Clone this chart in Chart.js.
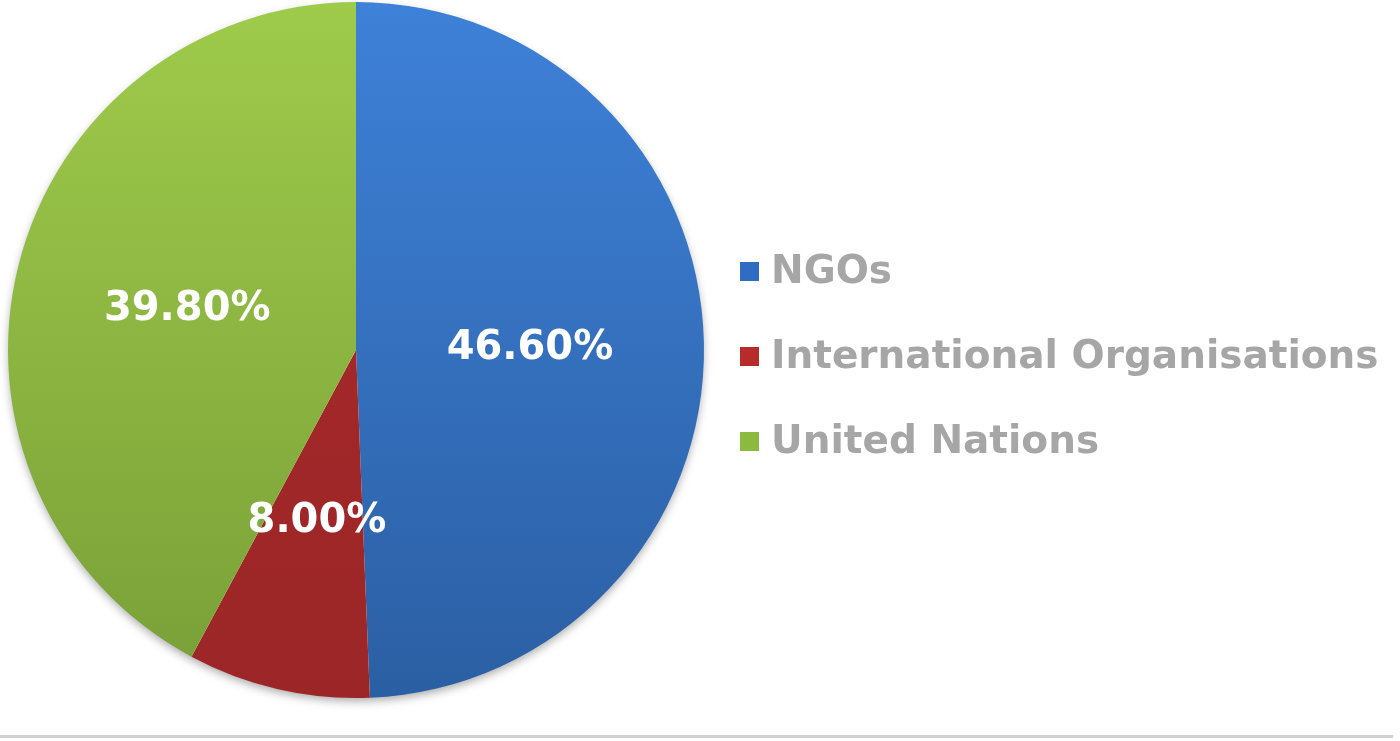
<!DOCTYPE html>
<html>
<head>
<meta charset="utf-8">
<script src="https://cdn.jsdelivr.net/npm/chart.js@4/dist/chart.umd.min.js"></script>
<style>
  html, body { margin: 0; padding: 0; background: #ffffff; }
  #wrap { width: 1400px; height: 741px; position: relative; }
</style>
</head>
<body>
<div id="wrap"><canvas id="pieChart" width="1400" height="741"></canvas></div>
<script>
// Funding share by channel
const categories = ["NGOs", "International Organisations", "United Nations"];
const shares = [46.6, 8.0, 39.8];
const shareLabels = ["46.60%", "8.00%", "39.80%"];

// top / bottom colours of each slice (slight vertical gradient)
const topColors = ["#3e81d8", "#a8292b", "#9fcb4b"];
const bottomColors = ["#2b5fa3", "#9c2627", "#789f37"];
const markerColors = ["#2f6cc2", "#b82b2b", "#8cba3f"];

function sliceFill(context) {
  const chart = context.chart;
  const area = chart.chartArea;
  if (!area) return topColors[context.dataIndex];
  const g = chart.ctx.createLinearGradient(0, area.top, 0, area.bottom);
  g.addColorStop(0, topColors[context.dataIndex]);
  g.addColorStop(1, bottomColors[context.dataIndex]);
  return g;
}

// soft shadow under the pie
const pieShadow = {
  id: "pieShadow",
  beforeDatasetsDraw(chart) {
    const arc = chart.getDatasetMeta(0).data[0];
    if (!arc) return;
    const ctx = chart.ctx;
    ctx.save();
    ctx.shadowColor = "rgba(0, 0, 0, 0.35)";
    ctx.shadowBlur = 10;
    ctx.shadowOffsetY = 4;
    ctx.fillStyle = "#ffffff";
    ctx.beginPath();
    ctx.arc(arc.x, arc.y, arc.outerRadius - 1, 0, Math.PI * 2);
    ctx.fill();
    ctx.restore();
  },
};

// percentage labels inside the slices + legend on the right + bottom rule
const extras = {
  id: "extras",
  afterDatasetsDraw(chart) {
    const ctx = chart.ctx;
    const meta = chart.getDatasetMeta(0);

    ctx.save();
    ctx.font = "bold 40px 'DejaVu Sans', Verdana, sans-serif";
    ctx.fillStyle = "#ffffff";
    ctx.textAlign = "center";
    ctx.textBaseline = "middle";
    meta.data.forEach((arc, i) => {
      const p = arc.tooltipPosition();
      ctx.fillText(shareLabels[i], p.x, p.y + 2);
    });
    ctx.restore();

    // legend
    ctx.save();
    ctx.font = "bold 39px 'DejaVu Sans', Verdana, sans-serif";
    ctx.textAlign = "left";
    ctx.textBaseline = "alphabetic";
    categories.forEach((name, i) => {
      const base = 283 + i * 85;
      ctx.fillStyle = markerColors[i];
      ctx.fillRect(740, base - 21, 19, 19);
      ctx.fillStyle = "#a6a6a6";
      ctx.fillText(name, 771, base);
    });
    ctx.restore();

    // grey rule at the bottom
    ctx.save();
    ctx.fillStyle = "#d2d2d2";
    ctx.fillRect(0, 735, 1393, 3);
    ctx.restore();
  },
};

new Chart(document.getElementById("pieChart").getContext("2d"), {
  type: "pie",
  data: {
    labels: categories,
    datasets: [
      {
        data: shares,
        backgroundColor: sliceFill,
        borderWidth: 0,
      },
    ],
  },
  options: {
    responsive: false,
    animation: false,
    layout: {
      padding: { left: 8, top: 2, right: 696, bottom: 43 },
    },
    plugins: {
      legend: { display: false },
      tooltip: { enabled: false },
    },
  },
  plugins: [pieShadow, extras],
});
</script>
</body>
</html>
